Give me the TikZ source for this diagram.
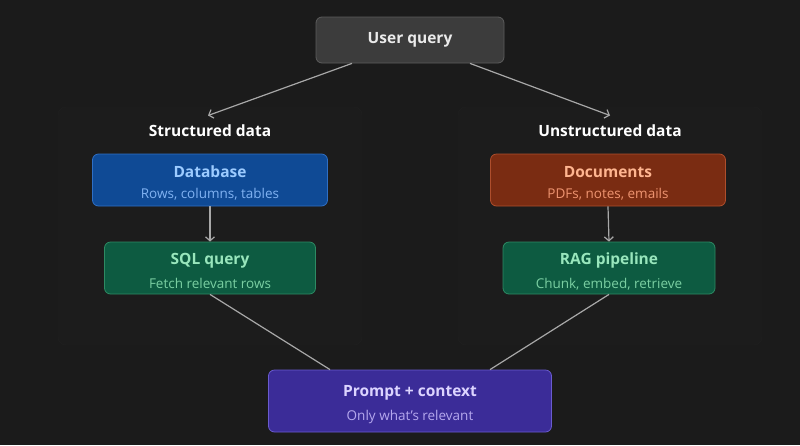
\documentclass[tikz,border=0pt]{standalone}
\usepackage{fontspec}
\setmainfont{Open Sans}
\usetikzlibrary{arrows.meta,positioning,calc}
\definecolor{bgDark}{HTML}{1B1B1B}
\definecolor{panelFill}{HTML}{1C1C1C}
\definecolor{panelLine}{HTML}{202020}
\definecolor{wireGray}{HTML}{A8A8A8}
\definecolor{uqFill}{HTML}{3C3C3C}
\definecolor{uqLine}{HTML}{5C5C5C}
\definecolor{dbFill}{HTML}{0F4A95}
\definecolor{dbLine}{HTML}{2F6FC4}
\definecolor{dbTitle}{HTML}{9CCBFF}
\definecolor{dbSub}{HTML}{80B2F2}
\definecolor{docFill}{HTML}{7A2C12}
\definecolor{docLine}{HTML}{AE4E2C}
\definecolor{docTitle}{HTML}{FFB590}
\definecolor{docSub}{HTML}{EE9470}
\definecolor{grFill}{HTML}{0D5B41}
\definecolor{grLine}{HTML}{2D8A63}
\definecolor{grTitle}{HTML}{98E6BC}
\definecolor{grSub}{HTML}{7ACFA2}
\definecolor{pcFill}{HTML}{3B2C98}
\definecolor{pcLine}{HTML}{6A5BCF}
\definecolor{pcTitle}{HTML}{DCD4FF}
\definecolor{pcSub}{HTML}{B5A8EE}
\newcommand\cardtext[4]{\rule{0pt}{18pt}\textcolor{#3}{\bfseries\fontsize{15.5}{18}\selectfont #1}\\[9pt]\textcolor{#4}{\fontsize{13.5}{16}\selectfont #2}}

\begin{document}
\begin{tikzpicture}[x=1pt,y=-1pt,
    card/.style={rounded corners=6pt,line width=0.8pt,align=center,
                 inner sep=0pt,minimum height=52pt},
    head/.style={text=white,font=\bfseries\fontsize{15.5}{18}\selectfont},
    wire/.style={draw=wireGray,line width=1.2pt},
    flow/.style={wire,-{Straight Barb[length=4pt,width=9pt]}}]
  \fill[bgDark] (0,0) rectangle (800,445);
  \useasboundingbox (0,0) rectangle (800,445);
  % faint group panels
  \draw[panelLine,fill=panelFill,rounded corners=8pt] (58,107) rectangle (362,345);
  \draw[panelLine,fill=panelFill,rounded corners=8pt] (458,107) rectangle (762,345);

  \node[card,fill=uqFill,draw=uqLine,minimum width=188pt,minimum height=46pt,
        text=white!92!black,font=\bfseries\fontsize{15.5}{18}\selectfont] (uq) at (410,40) {User query};

  \node[head] (sd) at (210,131) {Structured data};
  \node[head] (ud) at (610,131) {Unstructured data};

  \node[card,fill=dbFill,draw=dbLine,minimum width=235pt] (db) at (210,180)
       {\cardtext{Database}{Rows, columns, tables}{dbTitle}{dbSub}};
  \node[card,fill=grFill,draw=grLine,minimum width=211pt] (sql) at (210,268)
       {\cardtext{SQL query}{Fetch relevant rows}{grTitle}{grSub}};
  \node[card,fill=docFill,draw=docLine,minimum width=235pt] (doc) at (608,180)
       {\cardtext{Documents}{PDFs, notes, emails}{docTitle}{docSub}};
  \node[card,fill=grFill,draw=grLine,minimum width=212pt] (rag) at (609,268)
       {\cardtext{RAG pipeline}{Chunk, embed, retrieve}{grTitle}{grSub}};
  \node[card,fill=pcFill,draw=pcLine,minimum width=283pt,minimum height=62pt] (pc) at (410,401)
       {\cardtext{Prompt + context}{Only what's relevant}{pcTitle}{pcSub}};

  \draw[flow] ($(uq.south)+(-58,0)$) -- ($(sd.north)+(-2,-6)$);
  \draw[flow] ($(uq.south)+(60,0)$) -- ($(ud.north)+(0,-6)$);
  \draw[flow] (db.south) -- (sql.north);
  \draw[flow] (doc.south) -- (rag.north);
  \draw[wire] (sql.south) -- ($(pc.north)+(-80,0)$);
  \draw[wire] (rag.south) -- ($(pc.north)+(80,0)$);
\end{tikzpicture}
\end{document}
